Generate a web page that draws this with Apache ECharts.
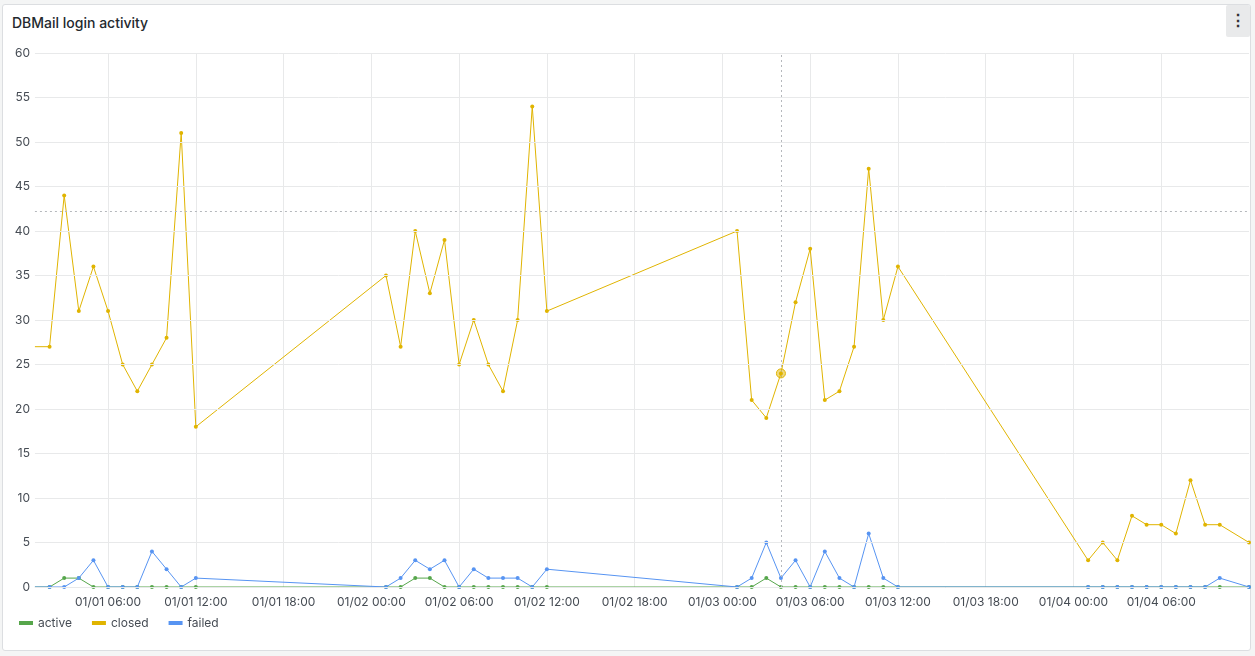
<!DOCTYPE html>
<html><head><meta charset="utf-8">
<script src="https://cdn.jsdelivr.net/npm/echarts@6/dist/echarts.min.js"></script>
<style>
html,body{margin:0;padding:0;background:#f4f5f5;width:1255px;height:656px;overflow:hidden;font-family:Inter,sans-serif}
#card{position:absolute;left:2px;top:4px;width:1247px;height:645px;background:#fff;border:1px solid #dcdee1;border-radius:3px}
#title{position:absolute;left:9px;top:9px;font-size:14px;font-weight:500;color:#24292e}
#menu{position:absolute;right:0;top:0;width:24px;height:32px;background:#e9eaeb;border-radius:2px;color:#333;font-size:16px;text-align:center;line-height:30px;font-weight:700}
#c{position:absolute;left:0;top:0;width:1255px;height:656px}
</style></head><body>
<div id="card"><div id="title">DBMail login activity</div><div id="menu">⋮</div></div>
<div id="c"></div>
<script>
// times: day (1-4) and hour
const times = [
 [1,1],[1,2],[1,3],[1,4],[1,5],[1,6],[1,7],[1,8],[1,9],[1,10],[1,11],[1,12],
 [2,1],[2,2],[2,3],[2,4],[2,5],[2,6],[2,7],[2,8],[2,9],[2,10],[2,11],[2,12],
 [3,1],[3,2],[3,3],[3,4],[3,5],[3,6],[3,7],[3,8],[3,9],[3,10],[3,11],[3,12],
 [4,1],[4,2],[4,3],[4,4],[4,5],[4,6],[4,7],[4,8],[4,9],[4,10],[4,12]
];
const closed = [27,27,44,31,36,31,25,22,25,28,51,18,
 35,27,40,33,39,25,30,25,22,30,54,31,
 40,21,19,24,32,38,21,22,27,47,30,36,
 3,5,3,8,7,7,6,12,7,7,5];
const active = [0,0,1,1,0,0,0,0,0,0,0,0,
 0,0,1,1,0,0,0,0,0,0,0,0,
 0,0,1,0,0,0,0,0,0,0,0,0,
 0,0,0,0,0,0,0,0,0,0,0];
const failed = [0,0,0,1,3,0,0,0,4,2,0,1,
 0,1,3,2,3,0,2,1,1,1,0,2,
 0,1,5,1,3,0,4,1,0,6,1,0,
 0,0,0,0,0,0,0,0,0,1,0];
const xHours = times.map(t => (t[0]-1)*24 + t[1]);
const pad = n => String(n).padStart(2,'0');
function lbl(h){const d=Math.floor(h/24)+1, hh=h%24; return '01/'+pad(d)+' '+pad(hh)+':00';}
const mk = arr => arr.map((v,i)=> i===0 ? {value:[xHours[i],v],symbol:'none'} : [xHours[i],v]);
const ch = echarts.init(document.getElementById('c'));
const txt = {color:'#464c54',fontSize:12,fontFamily:'Inter'};
function ser(name,arr,color){return {name,type:'line',data:mk(arr),showSymbol:true,symbol:'circle',symbolSize:4,
 lineStyle:{width:1,color},itemStyle:{color},clip:true,animation:false};}
const s = [ser('active',active,'#56A64B'),ser('closed',closed,'#E0B400'),ser('failed',failed,'#5794F2')];
s[2].markLine = {silent:true,symbol:'none',label:{show:false},lineStyle:{color:'#b5b8bc',type:[2,3],width:1},
 data:[{xAxis:52},[{coord:[1,42.2]},{coord:[84,42.2]}]]};
s[1].markPoint = {silent:true,symbol:'circle',symbolSize:9,label:{show:false},
 itemStyle:{color:'rgba(224,180,0,0.5)',borderColor:'#E0B400',borderWidth:1},data:[{coord:[52,24]}]};
ch.setOption({
 animation:false,
 grid:{left:20.3,right:6,top:53,bottom:69},
 xAxis:{type:'value',min:0,max:84,interval:6,
  axisLine:{show:false},axisTick:{show:false},
  axisLabel:{...txt,margin:9,showMinLabel:false,showMaxLabel:false,formatter:v=>lbl(v)},
  splitLine:{show:true,showMinLine:false,showMaxLine:false,lineStyle:{color:'#e8e9ea'}}},
 yAxis:{type:'value',min:0,max:60,interval:5,offset:-14.7,
  axisLine:{show:false},axisTick:{show:false},
  axisLabel:{...txt,margin:5},
  splitLine:{show:false}},
 series:[...s,{type:'line',silent:true,symbol:'none',data:[],
  markLine:{silent:true,symbol:'none',label:{show:false},lineStyle:{color:'#e8e9ea',type:'solid',width:1},
   data:[0,5,10,15,20,25,30,35,40,45,50,55,60].map(v=>[{coord:[1,v]},{coord:[84,v]}])}}],
 legend:{left:14,bottom:22,itemWidth:14,itemHeight:4,itemGap:20,icon:'rect',
  textStyle:{...txt},data:['active','closed','failed']}
});
</script></body></html>
